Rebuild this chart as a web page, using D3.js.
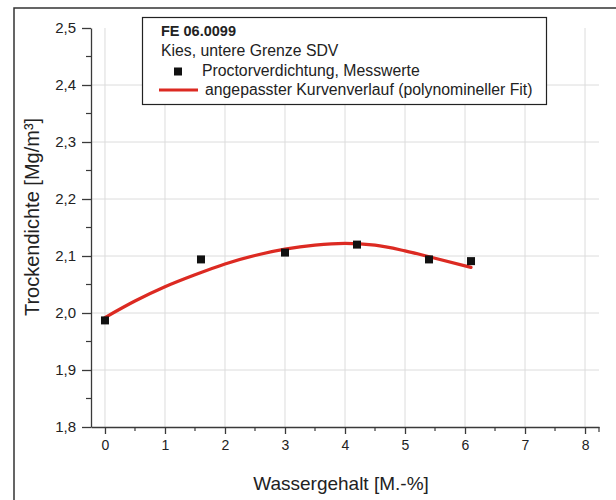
<!DOCTYPE html>
<html>
<head>
<meta charset="utf-8">
<script src="https://cdn.jsdelivr.net/npm/d3@7"></script>
<style>
  html, body { margin: 0; padding: 0; background: #fff; }
  svg { display: block; font-family: "Liberation Sans", Arial, sans-serif; }
</style>
</head>
<body>
<svg id="chart" width="616" height="500"></svg>
<script>
// Measured values (Proctor test)
const waterContent = [0, 1.6, 3.0, 4.2, 5.4, 6.1];
const dryDensity   = [1.987, 2.094, 2.106, 2.120, 2.094, 2.091];

// Fitted polynomial curve, sampled along the water content axis
const fitWater   = [0, 0.5, 1, 1.5, 2, 2.5, 3, 3.5, 4, 4.5, 5, 5.5, 6.1];
const fitDensity = [1.992, 2.021, 2.046, 2.067, 2.086, 2.101, 2.112, 2.119, 2.122, 2.119, 2.109, 2.096, 2.080];

// Axis ticks
const xTicks = [0, 1, 2, 3, 4, 5, 6, 7, 8];
const xMinorTicks = [0.5, 1.5, 2.5, 3.5, 4.5, 5.5, 6.5, 7.5];
const yTicks = [1.8, 1.9, 2.0, 2.1, 2.2, 2.3, 2.4, 2.5];
const yMinorTicks = [1.85, 1.95, 2.05, 2.15, 2.25, 2.35, 2.45];
const yTickLabels = ["1,8", "1,9", "2,0", "2,1", "2,2", "2,3", "2,4", "2,5"];

const legendTitle = "FE 06.0099";
const legendSubtitle = "Kies, untere Grenze SDV";
const legendPoints = "Proctorverdichtung, Messwerte";
const legendFit = "angepasster Kurvenverlauf (polynomineller Fit)";
const xTitle = "Wassergehalt [M.-%]";
const yTitle = "Trockendichte [Mg/m³]";

const svg = d3.select("#chart");
const axisColor = "#3a3a3a";
const textColor = "#222";

const plot = { left: 91, right: 599, top: 28, bottom: 427 };

const x = d3.scaleLinear().domain([-0.233, 8.233]).range([plot.left, plot.right]);
const y = d3.scaleLinear().domain([1.8, 2.5]).range([plot.bottom, plot.top]);

// Outer frame (left and top edges)
svg.append("path")
  .attr("d", "M14,500 L14,8 L616,8")
  .attr("fill", "none").attr("stroke", "#333").attr("stroke-width", 1.5);

// Grid
const grid = svg.append("g").attr("stroke", "#dcdcdc").attr("stroke-width", 1);
grid.selectAll("line.v").data(xTicks).join("line")
  .attr("x1", d => x(d)).attr("x2", d => x(d))
  .attr("y1", plot.top).attr("y2", plot.bottom);
grid.selectAll("line.h").data(yTicks.filter(d => d > 1.8 && d < 2.5)).join("line")
  .attr("x1", plot.left).attr("x2", plot.right)
  .attr("y1", d => y(d)).attr("y2", d => y(d));

// X axis
const xAxis = d3.axisBottom(x).tickValues(xTicks).tickSize(7).tickPadding(6)
  .tickFormat(d3.format("d")).tickSizeOuter(0);
const gx = svg.append("g").attr("transform", `translate(0,${plot.bottom})`).call(xAxis);
gx.select(".domain").attr("stroke", axisColor).attr("stroke-width", 1.3);
gx.selectAll(".tick line").attr("stroke", axisColor).attr("stroke-width", 1.3);
gx.selectAll(".tick text").attr("fill", textColor).style("font-size", "14px");
gx.selectAll("line.minor").data(xMinorTicks).join("line").attr("class", "minor")
  .attr("x1", d => x(d)).attr("x2", d => x(d)).attr("y1", 0).attr("y2", 4)
  .attr("stroke", axisColor).attr("stroke-width", 1.2);
gx.append("line").attr("x1", plot.right).attr("x2", plot.right).attr("y1", 0).attr("y2", 5)
  .attr("stroke", axisColor).attr("stroke-width", 1.2);

// Y axis
const yAxis = d3.axisLeft(y).tickValues(yTicks).tickSize(9).tickPadding(6)
  .tickFormat((d, i) => yTickLabels[i]).tickSizeOuter(0);
const gy = svg.append("g").attr("transform", `translate(${plot.left},0)`).call(yAxis);
gy.select(".domain").attr("stroke", axisColor).attr("stroke-width", 1.3);
gy.selectAll(".tick line").attr("stroke", axisColor).attr("stroke-width", 1.3);
gy.selectAll(".tick text").attr("fill", textColor).style("font-size", "15px");
gy.selectAll("line.minor").data(yMinorTicks).join("line").attr("class", "minor")
  .attr("x1", -5).attr("x2", 0).attr("y1", d => y(d)).attr("y2", d => y(d))
  .attr("stroke", axisColor).attr("stroke-width", 1.2);

// Axis titles
svg.append("text")
  .attr("x", 341).attr("y", 490).attr("text-anchor", "middle")
  .attr("fill", textColor).style("font-size", "19px").text(xTitle);
svg.append("text")
  .attr("transform", "translate(39,217) rotate(-90)").attr("text-anchor", "middle")
  .attr("fill", textColor).style("font-size", "20px").text(yTitle);

// Fitted curve
const fitData = fitWater.map((w, i) => ({ w, d: fitDensity[i] }));
svg.append("path")
  .datum(fitData)
  .attr("fill", "none").attr("stroke", "#dc2a22").attr("stroke-width", 3.2)
  .attr("stroke-linecap", "round")
  .attr("d", d3.line().x(p => x(p.w)).y(p => y(p.d)).curve(d3.curveMonotoneX));

// Measured points
const pts = waterContent.map((w, i) => ({ w, d: dryDensity[i] }));
const sq = 8;
svg.append("g").selectAll("rect").data(pts).join("rect")
  .attr("x", p => x(p.w) - sq / 2).attr("y", p => y(p.d) - sq / 2)
  .attr("width", sq).attr("height", sq).attr("fill", "#111");

// Legend
const lg = svg.append("g");
lg.append("rect").attr("x", 142.5).attr("y", 17.5).attr("width", 404).attr("height", 87)
  .attr("fill", "#fff").attr("stroke", "#222").attr("stroke-width", 1.2);
lg.append("text").attr("x", 161).attr("y", 36).attr("fill", textColor)
  .style("font-size", "14.5px").style("font-weight", "bold").text(legendTitle);
lg.append("text").attr("x", 161).attr("y", 56).attr("fill", textColor)
  .style("font-size", "15.8px").text(legendSubtitle);
lg.append("rect").attr("x", 178 - 4).attr("y", 71.5 - 4).attr("width", 8).attr("height", 8).attr("fill", "#111");
lg.append("text").attr("x", 202).attr("y", 76).attr("fill", textColor)
  .style("font-size", "15.8px").text(legendPoints);
lg.append("line").attr("x1", 159).attr("x2", 198).attr("y1", 90).attr("y2", 90)
  .attr("stroke", "#dc2a22").attr("stroke-width", 3);
lg.append("text").attr("x", 205).attr("y", 95).attr("fill", textColor)
  .style("font-size", "15.8px").text(legendFit);
</script>
</body>
</html>
